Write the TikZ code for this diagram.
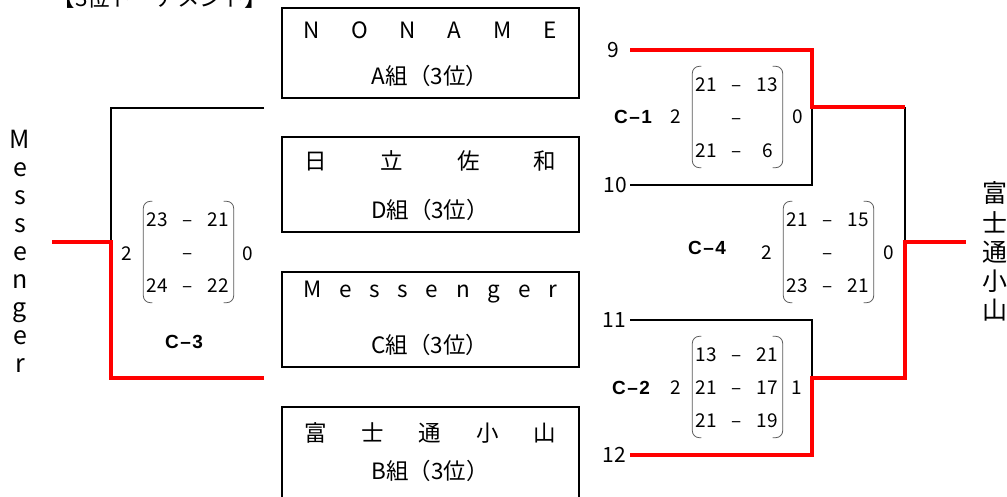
\documentclass[tikz,border=0pt]{standalone}
\usepackage{fontspec}
\usepackage{array}
\setmainfont{Noto Sans CJK JP}
\newfontfamily\gamefont{Liberation Sans}
\usetikzlibrary{positioning}

\begin{document}
\begin{tikzpicture}[x=1pt,y=-1pt]
  \tikzset{
  team/.style={
    rectangle,
    draw=black,
    line width=2pt,
    minimum width=297pt,
    inner sep=0pt
  },
  tname/.style={inner sep=0pt, font=\fontsize{22.5}{26}\selectfont},
  grp/.style={inner sep=0pt, font=\fontsize{22.5}{26}\selectfont},
  seed/.style={inner sep=0pt, font=\fontsize{21}{24}\selectfont},
  score/.style={inner sep=0pt, font=\fontsize{19}{33}\selectfont},
  game/.style={inner sep=0pt, font=\gamefont\bfseries\fontsize{19}{22}\selectfont},
  lose/.style={line width=2pt, black},
  win/.style={line width=3.5pt, red},
  paren/.style={line width=0.8pt, black!65, rounded corners=7pt}
}
\useasboundingbox (0,0) rectangle (1007,497);
\clip (0,0) rectangle (1007,497);

\node[tname] at (160,-2) (title) {【3位トーナメント】};

\node[team, minimum height=90pt] at (430.5,53) (boxA) {};
\node[team, minimum height=95pt] at (430.5,184.5) (boxD) {};
\node[team, minimum height=95pt] at (430.5,319.5) (boxC) {};
\node[team, minimum height=95pt] at (430.5,454) (boxB) {};

\node[tname] at (430,30) (nameA) {\makebox[254pt][s]{N\hfill O\hfill N\hfill A\hfill M\hfill E}};
\node[grp] at (430,76) (grpA) {A組（3位）};
\node[tname] at (430,161) (nameD) {\makebox[252pt][s]{日\hfill 立\hfill 佐\hfill 和}};
\node[grp] at (430,210) (grpD) {D組（3位）};
\node[tname] at (430,292) (nameC) {\makebox[254pt][s]{M\hfill e\hfill s\hfill s\hfill e\hfill n\hfill g\hfill e\hfill r}};
\node[grp] at (430,345) (grpC) {C組（3位）};
\node[tname] at (430,433) (nameB) {\makebox[252pt][s]{富\hfill 士\hfill 通\hfill 小\hfill 山}};
\node[grp] at (430,471) (grpB) {B組（3位）};

\node[inner sep=0pt, font=\fontsize{25}{28}\selectfont] at (20,254.5) (champL)
  {\begin{tabular}{@{}c@{}}M\\e\\s\\s\\e\\n\\g\\e\\r\end{tabular}};
\node[inner sep=0pt, font=\fontsize{25}{29}\selectfont] at (995,255) (champR)
  {\begin{tabular}{@{}c@{}}富\\士\\通\\小\\山\end{tabular}};

\node[seed] at (613,50) (s9) {9};
\node[seed] at (615,185) (s10) {10};
\node[seed] at (614,320) (s11) {11};
\node[seed] at (614,455) (s12) {12};

\node[score] at (737,118) (c1)
  {\begin{tabular}{@{}w{c}{20pt}@{}w{c}{41pt}@{}w{c}{20pt}@{}}21 & – & 13\\ & – & \\21 & – & 6\end{tabular}};
\node[score] at (737,388) (c2)
  {\begin{tabular}{@{}w{c}{20pt}@{}w{c}{41pt}@{}w{c}{20pt}@{}}13 & – & 21\\21 & – & 17\\21 & – & 19\end{tabular}};
\node[score] at (188,253) (c3)
  {\begin{tabular}{@{}w{c}{20pt}@{}w{c}{41pt}@{}w{c}{20pt}@{}}23 & – & 21\\ & – & \\24 & – & 22\end{tabular}};
\node[score] at (828,253) (c4)
  {\begin{tabular}{@{}w{c}{20pt}@{}w{c}{41pt}@{}w{c}{20pt}@{}}21 & – & 15\\ & – & \\23 & – & 21\end{tabular}};

\foreach \m in {c1,c2,c3,c4} {
  \draw[paren] ([xshift=5pt,yshift=2pt]\m.north west) -| ([xshift=-4pt]\m.west)
    |- ([xshift=5pt]\m.south west);
  \draw[paren] ([xshift=-5pt,yshift=2pt]\m.north east) -| ([xshift=5pt]\m.east)
    |- ([xshift=-5pt]\m.south east);
}

\node[score] at (676,117) (c1l) {2};
\node[score] at (798,117) (c1r) {0};
\node[score] at (676,388) (c2l) {2};
\node[score] at (797,388) (c2r) {1};
\node[score] at (127,254) (c3l) {2};
\node[score] at (248,254) (c3r) {0};
\node[score] at (767,253) (c4l) {2};
\node[score] at (889,253) (c4r) {0};

\node[game] at (633,117) (g1) {C\kern1.5pt–\kern1.5pt1};
\node[game] at (631,388) (g2) {C\kern1.5pt–\kern1.5pt2};
\node[game] at (184,342) (g3) {C\kern1.5pt–\kern1.5pt3};
\node[game] at (707,248) (g4) {C\kern1.5pt–\kern1.5pt4};

\coordinate (lt) at (264,108);
\coordinate (lb) at (264,378);
\coordinate (lj) at (111,242);
\coordinate (lw) at (52,242);
\coordinate (e9) at (630,50);
\coordinate (e10) at (630,185);
\coordinate (e11) at (630,320);
\coordinate (e12) at (630,455);
\coordinate (j1) at (812,107);
\coordinate (j2) at (812,378);
\coordinate (jf) at (905,242);
\coordinate (rw) at (966,242);

\draw[lose] (lt) -| (lj);
\draw[lose] (e10) -| (j1);
\draw[lose] (e11) -| (j2);
\draw[lose] (j1 -| jf) -- (jf);

\draw[win] (lb) -| (lj) -- (lw);
\draw[win] (e9) -| (j1) -- (j1 -| jf);
\draw[win] (e12) -| (j2) -| (jf) -- (rw);

\end{tikzpicture}
\end{document}
